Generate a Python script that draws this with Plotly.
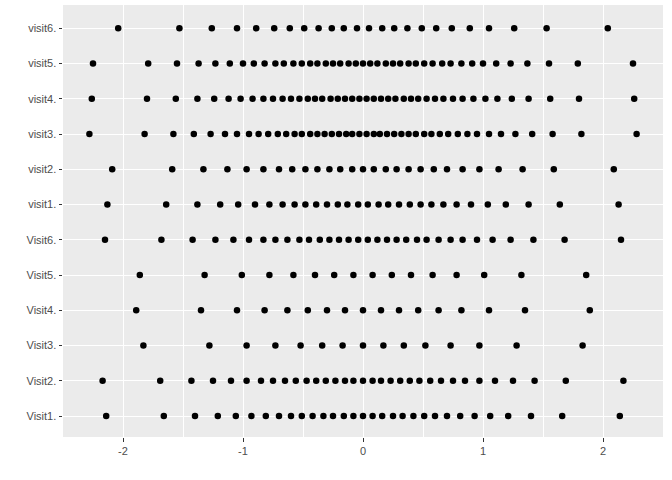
import plotly.graph_objects as go

# Category order from bottom to top
categories = ["Visit1.", "Visit2.", "Visit3.", "Visit4.", "Visit5.", "Visit6.",
              "visit1.", "visit2.", "visit3.", "visit4.", "visit5.", "visit6."]

Visit1 = [-2.14, -1.66, -1.40, -1.21, -1.06, -0.93, -0.81, -0.70, -0.60, -0.51, -0.42, -0.33, -0.25, -0.16, -0.08,
          0.00, 0.08, 0.16, 0.25, 0.33, 0.42, 0.51, 0.60, 0.70, 0.81, 0.93, 1.06, 1.21, 1.40, 1.66, 2.14]
Visit2 = [-2.17, -1.69, -1.43, -1.25, -1.10, -0.97, -0.85, -0.75, -0.65, -0.56, -0.47, -0.39, -0.31, -0.23, -0.15, -0.08,
          0.00, 0.08, 0.15, 0.23, 0.31, 0.39, 0.47, 0.56, 0.65, 0.75, 0.85, 0.97, 1.10, 1.25, 1.43, 1.69, 2.17]
Visit3 = [-1.83, -1.28, -0.97, -0.73, -0.52, -0.34, -0.17, 0.00, 0.17, 0.34, 0.52, 0.73, 0.97, 1.28, 1.83]
Visit4 = [-1.89, -1.35, -1.05, -0.82, -0.63, -0.46, -0.30, -0.15, 0.00, 0.15, 0.30, 0.46, 0.63, 0.82, 1.05, 1.35, 1.89]
Visit5 = [-1.86, -1.32, -1.01, -0.78, -0.58, -0.40, -0.24, -0.08, 0.08, 0.24, 0.40, 0.58, 0.78, 1.01, 1.32, 1.86]
Visit6 = [-2.15, -1.68, -1.42, -1.23, -1.08, -0.95, -0.83, -0.73, -0.63, -0.53, -0.45, -0.36, -0.28, -0.20, -0.12, -0.04,
          0.04, 0.12, 0.20, 0.28, 0.36, 0.45, 0.53, 0.63, 0.73, 0.83, 0.95, 1.08, 1.23, 1.42, 1.68, 2.15]
visit1 = [-2.13, -1.64, -1.38, -1.19, -1.04, -0.90, -0.78, -0.67, -0.57, -0.48, -0.39, -0.30, -0.21, -0.13, -0.04,
          0.04, 0.13, 0.21, 0.30, 0.39, 0.48, 0.57, 0.67, 0.78, 0.90, 1.04, 1.19, 1.38, 1.64, 2.13]
visit2 = [-2.09, -1.59, -1.33, -1.13, -0.97, -0.83, -0.70, -0.59, -0.48, -0.38, -0.28, -0.19, -0.09,
          0.00, 0.09, 0.19, 0.28, 0.38, 0.48, 0.59, 0.70, 0.83, 0.97, 1.13, 1.33, 1.59, 2.09]
visit3 = [-2.28, -1.82, -1.58, -1.41, -1.27, -1.15, -1.05, -0.95, -0.87, -0.79, -0.71, -0.64, -0.57, -0.51, -0.44,
          -0.38, -0.32, -0.26, -0.20, -0.14, -0.09, -0.03,
          0.03, 0.09, 0.14, 0.20, 0.26, 0.32, 0.38, 0.44, 0.51, 0.57, 0.64, 0.71, 0.79, 0.87, 0.95, 1.05, 1.15,
          1.27, 1.41, 1.58, 1.82, 2.28]
visit4 = [-2.26, -1.80, -1.56, -1.38, -1.24, -1.12, -1.02, -0.92, -0.83, -0.75, -0.67, -0.60, -0.53, -0.46, -0.40,
          -0.34, -0.27, -0.21, -0.15, -0.09, -0.03,
          0.03, 0.09, 0.15, 0.21, 0.27, 0.34, 0.40, 0.46, 0.53, 0.60, 0.67, 0.75, 0.83, 0.92, 1.02, 1.12, 1.24,
          1.38, 1.56, 1.80, 2.26]
visit5 = [-2.25, -1.79, -1.55, -1.37, -1.23, -1.11, -1.00, -0.91, -0.82, -0.73, -0.66, -0.58, -0.51, -0.44, -0.38,
          -0.31, -0.25, -0.19, -0.12, -0.06,
          0.00, 0.06, 0.12, 0.19, 0.25, 0.31, 0.38, 0.44, 0.51, 0.58, 0.66, 0.73, 0.82, 0.91, 1.00, 1.11, 1.23,
          1.37, 1.55, 1.79, 2.25]
visit6 = [-2.04, -1.53, -1.26, -1.05, -0.89, -0.74, -0.61, -0.49, -0.37, -0.26, -0.16, -0.05,
          0.05, 0.16, 0.26, 0.37, 0.49, 0.61, 0.74, 0.89, 1.05, 1.26, 1.53, 2.04]

series = [Visit1, Visit2, Visit3, Visit4, Visit5, Visit6,
          visit1, visit2, visit3, visit4, visit5, visit6]

xs, ys = [], []
for cat, vals in zip(categories, series):
    xs.extend(vals)
    ys.extend([cat] * len(vals))

x_ticks = [-2, -1, 0, 1, 2]
x_tick_labels = ["-2", "-1", "0", "1", "2"]

fig = go.Figure()
fig.add_trace(go.Scatter(
    x=xs, y=ys, mode="markers",
    marker=dict(color="black", size=6.5, line=dict(width=0)),
    hoverinfo="skip", showlegend=False,
))

font_family = "Liberation Sans, Arial, Helvetica, sans-serif"

fig.update_layout(
    width=672, height=480,
    margin=dict(l=63, r=9, t=5, b=43),
    paper_bgcolor="white",
    plot_bgcolor="#EBEBEB",
    font=dict(family=font_family, size=11, color="#4D4D4D"),
    xaxis=dict(
        range=[-2.5, 2.5],
        tickmode="array", tickvals=x_ticks, ticktext=x_tick_labels,
        showgrid=True, gridcolor="white", gridwidth=1.1,
        minor=dict(tickmode="array", tickvals=[-1.5, -0.5, 0.5, 1.5],
                   showgrid=True, gridcolor="white", gridwidth=0.5, ticks=""),
        zeroline=False, showline=False,
        ticks="outside", ticklen=3.5, tickwidth=1.1, tickcolor="#333333",
        tickfont=dict(size=11, color="#4D4D4D", family=font_family),
        fixedrange=True,
    ),
    yaxis=dict(
        type="category",
        categoryorder="array", categoryarray=categories,
        range=[-0.595, 11.66],
        showgrid=True, gridcolor="white", gridwidth=1.1,
        zeroline=False, showline=False,
        ticks="outside", ticklen=3.5, tickwidth=1.1, tickcolor="#333333",
        tickfont=dict(size=11, color="#4D4D4D", family=font_family),
        fixedrange=True,
    ),
)

fig.write_html("out.html")
